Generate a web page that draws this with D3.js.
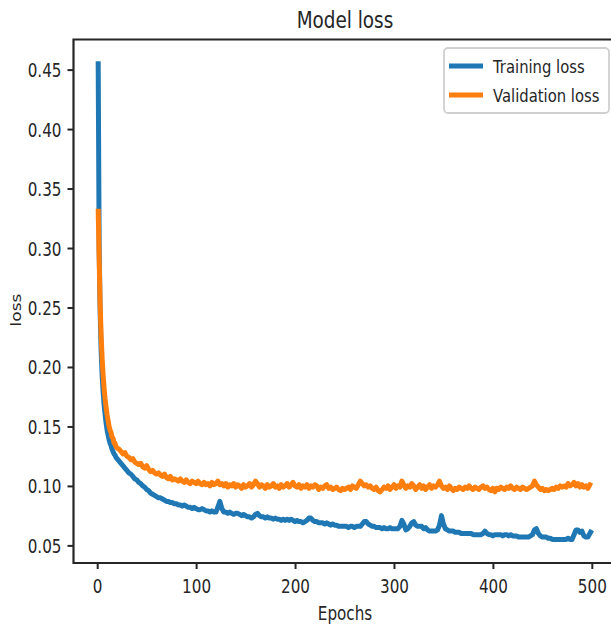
<!DOCTYPE html>
<html>
<head>
<meta charset="utf-8">
<script src="https://cdn.jsdelivr.net/npm/d3@7"></script>
<style>
  html, body { margin: 0; padding: 0; background: #fff; }
  text { font-family: "DejaVu Sans", sans-serif; fill: #262626; }
</style>
</head>
<body>
<svg id="chart" width="611" height="625"></svg>
<script>
// epochs: 1..20 one by one, then every 2nd epoch up to 500
var epochs = d3.range(1, 21).concat(d3.range(22, 501, 2));

var trainLoss = [
  0.457, 0.300, 0.245, 0.213, 0.193, 0.179, 0.168, 0.160, 0.153, 0.147,
  0.143, 0.139, 0.136, 0.134, 0.131, 0.129, 0.127, 0.126, 0.124, 0.123,
  // 22..500 step 2
  0.121, 0.119, 0.117, 0.115, 0.113, 0.111, 0.110, 0.108, 0.106, 0.105,
  0.103, 0.102, 0.100, 0.099, 0.097, 0.096, 0.094, 0.093, 0.092, 0.091,
  0.090, 0.090, 0.089, 0.088, 0.087, 0.087, 0.086, 0.086, 0.085, 0.085,
  0.084, 0.084, 0.083, 0.084, 0.083, 0.082, 0.082, 0.081, 0.082, 0.081,
  0.080, 0.080, 0.081, 0.080, 0.079, 0.079, 0.078, 0.079, 0.078, 0.078,
  0.082, 0.087, 0.081, 0.078, 0.078, 0.077, 0.078, 0.077, 0.076, 0.077,
  0.077, 0.076, 0.075, 0.076, 0.075, 0.074, 0.074, 0.073, 0.074, 0.076,
  0.077, 0.075, 0.074, 0.074, 0.073, 0.074, 0.073, 0.073, 0.072, 0.073,
  0.072, 0.072, 0.071, 0.072, 0.071, 0.072, 0.071, 0.072, 0.071, 0.070,
  0.071, 0.070, 0.070, 0.069, 0.070, 0.071, 0.073, 0.073, 0.071, 0.070,
  0.070, 0.069, 0.069, 0.069, 0.068, 0.069, 0.068, 0.067, 0.068, 0.067,
  0.067, 0.066, 0.066, 0.066, 0.066, 0.066, 0.065, 0.066, 0.066, 0.065,
  0.066, 0.066, 0.066, 0.068, 0.070, 0.070, 0.068, 0.067, 0.066, 0.066,
  0.065, 0.065, 0.065, 0.064, 0.065, 0.064, 0.064, 0.065, 0.064, 0.064,
  0.064, 0.064, 0.066, 0.071, 0.068, 0.063, 0.064, 0.066, 0.069, 0.070,
  0.067, 0.066, 0.066, 0.066, 0.064, 0.065, 0.063, 0.062, 0.062, 0.062,
  0.062, 0.063, 0.067, 0.075, 0.068, 0.064, 0.063, 0.062, 0.062, 0.062,
  0.061, 0.061, 0.061, 0.060, 0.060, 0.060, 0.060, 0.060, 0.060, 0.059,
  0.059, 0.059, 0.059, 0.059, 0.060, 0.062, 0.060, 0.059, 0.059, 0.058,
  0.059, 0.059, 0.059, 0.059, 0.058, 0.059, 0.059, 0.058, 0.059, 0.058,
  0.058, 0.058, 0.057, 0.057, 0.057, 0.057, 0.057, 0.057, 0.058, 0.059,
  0.063, 0.064, 0.060, 0.058, 0.057, 0.057, 0.057, 0.056, 0.056, 0.055,
  0.055, 0.055, 0.055, 0.055, 0.055, 0.055, 0.055, 0.056, 0.055, 0.055,
  0.059, 0.063, 0.063, 0.061, 0.062, 0.058, 0.057, 0.057, 0.060, 0.063
];

var valLoss = [
  0.333, 0.290, 0.252, 0.226, 0.207, 0.193, 0.182, 0.173, 0.166, 0.160,
  0.155, 0.150, 0.147, 0.145, 0.141, 0.140, 0.136, 0.136, 0.133, 0.132,
  // 22..500 step 2
  0.131, 0.129, 0.127, 0.128, 0.125, 0.124, 0.122, 0.123, 0.120, 0.119,
  0.118, 0.119, 0.116, 0.115, 0.117, 0.114, 0.112, 0.113, 0.111, 0.110,
  0.111, 0.109, 0.108, 0.110, 0.107, 0.106, 0.108, 0.105, 0.106, 0.105,
  0.104, 0.106, 0.104, 0.103, 0.105, 0.103, 0.102, 0.104, 0.103, 0.102,
  0.104, 0.102, 0.101, 0.103, 0.101, 0.102, 0.100, 0.103, 0.101, 0.102,
  0.104, 0.101, 0.102, 0.100, 0.102, 0.099, 0.101, 0.100, 0.102, 0.099,
  0.101, 0.100, 0.098, 0.101, 0.099, 0.100, 0.102, 0.099, 0.101, 0.104,
  0.102, 0.099, 0.101, 0.100, 0.098, 0.101, 0.099, 0.100, 0.102, 0.099,
  0.100, 0.098, 0.101, 0.099, 0.100, 0.102, 0.099, 0.101, 0.103, 0.100,
  0.099, 0.101, 0.098, 0.100, 0.099, 0.101, 0.098, 0.100, 0.099, 0.101,
  0.100, 0.097, 0.099, 0.098, 0.100, 0.101, 0.098, 0.099, 0.097, 0.098,
  0.099, 0.097, 0.096, 0.098, 0.097, 0.098, 0.099, 0.097, 0.100, 0.099,
  0.098, 0.101, 0.104, 0.102, 0.100, 0.101, 0.099, 0.100, 0.098, 0.097,
  0.099, 0.096, 0.095, 0.097, 0.099, 0.098, 0.100, 0.097, 0.099, 0.101,
  0.098, 0.100, 0.099, 0.104, 0.101, 0.098, 0.100, 0.099, 0.102, 0.100,
  0.097, 0.099, 0.101, 0.098, 0.100, 0.097, 0.099, 0.101, 0.098, 0.100,
  0.099, 0.101, 0.104, 0.100, 0.098, 0.099, 0.097, 0.100, 0.098, 0.096,
  0.098, 0.097, 0.099, 0.098, 0.097, 0.099, 0.098, 0.100, 0.098, 0.097,
  0.099, 0.098, 0.097, 0.099, 0.100, 0.098, 0.099, 0.097, 0.096, 0.098,
  0.095, 0.098, 0.097, 0.099, 0.098, 0.097, 0.099, 0.098, 0.100, 0.098,
  0.097, 0.099, 0.098, 0.097, 0.099, 0.098, 0.097, 0.098, 0.099, 0.100,
  0.104, 0.101, 0.099, 0.097, 0.098, 0.096, 0.097, 0.096, 0.097, 0.098,
  0.097, 0.099, 0.098, 0.100, 0.099, 0.100, 0.099, 0.102, 0.100, 0.101,
  0.103, 0.100, 0.102, 0.099, 0.101, 0.099, 0.100, 0.098, 0.101, 0.100
];

var xTicks = [0, 100, 200, 300, 400, 500];
var yTicks = [0.05, 0.10, 0.15, 0.20, 0.25, 0.30, 0.35, 0.40, 0.45];
var seriesNames = ["Training loss", "Validation loss"];
var seriesColors = ["#1f77b4", "#ff7f0e"];

var svg = d3.select("#chart");
// plot box (right spine falls outside the window, as in the reference)
var pLeft = 73.5, pRight = 616.5, pTop = 39.5, pBottom = 563;
var sx = 0.8; // text looks horizontally squeezed in the reference

var x = d3.scaleLinear().domain([-23.95, 524.95]).range([pLeft, pRight]);
var y = d3.scaleLinear().domain([0.0352, 0.4753]).range([pBottom, pTop]);

function squeezed(sel, tx, ty) {
  return sel.attr("transform", "translate(" + tx + "," + ty + ") scale(" + sx + ",1)");
}

// lines
var line = d3.line().x(function (d) { return x(d[0]); }).y(function (d) { return y(d[1]); });
[trainLoss, valLoss].forEach(function (vals, i) {
  svg.append("path")
    .datum(epochs.map(function (e, j) { return [e, vals[j]]; }))
    .attr("d", line)
    .attr("fill", "none")
    .attr("stroke", seriesColors[i])
    .attr("stroke-width", 5)
    .attr("stroke-linejoin", "round");
});

// axes
var xAxis = svg.append("g").attr("transform", "translate(0," + pBottom + ")")
  .call(d3.axisBottom(x).tickValues(xTicks).tickSize(6).tickFormat(d3.format("d")));
var yAxis = svg.append("g").attr("transform", "translate(" + pLeft + ",0)")
  .call(d3.axisLeft(y).tickValues(yTicks).tickSize(6).tickFormat(d3.format(".2f")));

[xAxis, yAxis].forEach(function (g) {
  g.select(".domain").remove();
  g.selectAll(".tick line").attr("stroke", "#262626").attr("stroke-width", 2);
  g.selectAll(".tick text").attr("font-size", 19).attr("fill", "#262626");
});
xAxis.selectAll(".tick text").attr("y", 0).attr("dy", 0)
  .each(function () { squeezed(d3.select(this), 0, 30); });
yAxis.selectAll(".tick text").attr("x", 0).attr("dy", 0)
  .each(function () { squeezed(d3.select(this), -12, 7); });

// spines (left, top, bottom)
svg.append("path")
  .attr("d", "M" + pRight + "," + pTop + "H" + pLeft + "V" + pBottom + "H" + pRight)
  .attr("fill", "none").attr("stroke", "#262626").attr("stroke-width", 2.2);

// title and labels
squeezed(svg.append("text"), (pLeft + pRight) / 2, 28)
  .attr("text-anchor", "middle").attr("font-size", 23).text("Model loss");
squeezed(svg.append("text"), (pLeft + pRight) / 2, 620)
  .attr("text-anchor", "middle").attr("font-size", 19).text("Epochs");
svg.append("text")
  .attr("transform", "translate(21,310) scale(" + sx + ",1) rotate(-90)")
  .attr("text-anchor", "middle").attr("font-size", 17).text("loss");

// legend
var lg = svg.append("g");
lg.append("rect").attr("x", 444).attr("y", 48).attr("width", 165).attr("height", 65)
  .attr("rx", 4).attr("fill", "#fff").attr("fill-opacity", 0.85)
  .attr("stroke", "#d0d0d0").attr("stroke-width", 1.8);
seriesNames.forEach(function (name, i) {
  var ly = 66 + i * 29;
  lg.append("line").attr("x1", 449).attr("x2", 483).attr("y1", ly).attr("y2", ly)
    .attr("stroke", seriesColors[i]).attr("stroke-width", 5);
  squeezed(lg.append("text"), 493, ly + 7).attr("font-size", 18.5).text(name);
});
</script>
</body>
</html>
